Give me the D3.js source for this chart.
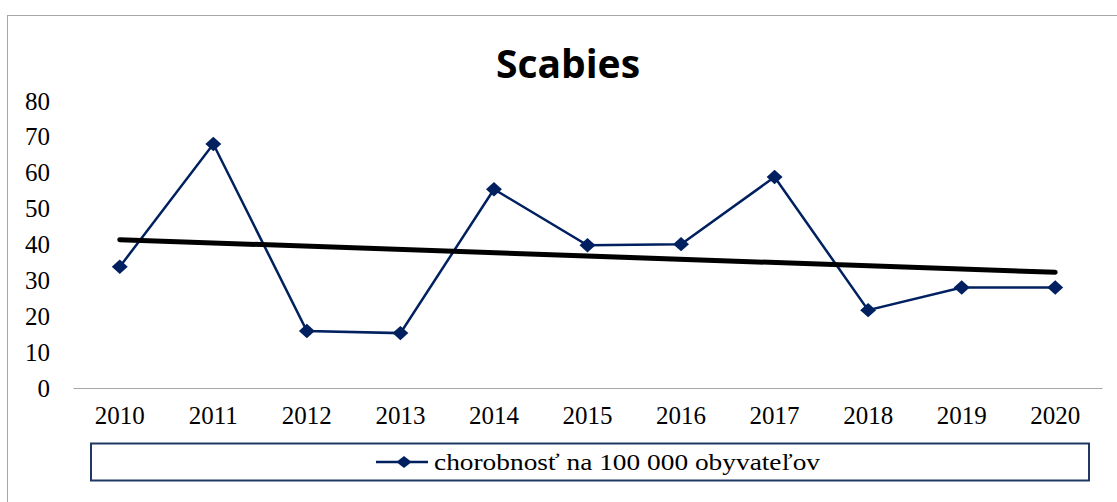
<!DOCTYPE html>
<html>
<head>
<meta charset="utf-8">
<script src="https://cdn.jsdelivr.net/npm/d3@7"></script>
<style>
  body { margin: 0; background: #fff; }
  svg { display: block; }
</style>
</head>
<body>
<div id="chart"></div>
<script>
var years = ['2010', '2011', '2012', '2013', '2014', '2015', '2016', '2017', '2018', '2019', '2020'];
var incidence = [33.8, 68.0, 15.9, 15.3, 55.4, 39.8, 40.1, 58.8, 21.7, 28.0, 28.0];
var yTicks = [0, 10, 20, 30, 40, 50, 60, 70, 80];
var seriesLabel = 'chorobnosť na 100 000 obyvateľov';
var chartTitle = 'Scabies';

var WIDTH = 1117, HEIGHT = 502;
var PLOT = { left: 73, right: 1102, top: 101, bottom: 388 };
var NAVY = '#002060';
var SERIF = 'Liberation Serif, Times New Roman, serif';

var svg = d3.select('#chart').append('svg')
    .attr('width', WIDTH)
    .attr('height', HEIGHT);

// outer chart frame
svg.append('rect')
    .attr('x', 7.5).attr('y', 15.5)
    .attr('width', WIDTH + 20).attr('height', HEIGHT + 20)
    .attr('fill', '#fff')
    .attr('stroke', '#a6a6a6');

var x = d3.scaleBand().domain(years).range([PLOT.left, PLOT.right]);
var y = d3.scaleLinear().domain([0, 80]).range([PLOT.bottom, PLOT.top]);
var cx = function (d) { return x(d) + x.bandwidth() / 2; };

svg.append('text')
    .attr('x', 568).attr('y', 78)
    .attr('text-anchor', 'middle')
    .attr('font-family', 'Open Sans, Liberation Sans, sans-serif')
    .attr('font-weight', 'bold')
    .attr('font-size', 39)
    .text(chartTitle);

// y axis labels
var yAxis = svg.append('g')
    .attr('transform', 'translate(' + PLOT.left + ',0)')
    .attr('font-family', SERIF)
    .attr('font-size', 25)
    .call(d3.axisLeft(y).tickValues(yTicks).tickSize(0).tickPadding(23));
yAxis.select('.domain').remove();
yAxis.selectAll('text')
    .style('font-family', SERIF)
    .style('font-size', '25px')
    .attr('fill', '#000');

// x axis
var xAxis = svg.append('g')
    .attr('transform', 'translate(0,' + PLOT.bottom + ')')
    .call(d3.axisBottom(x).tickSize(0).tickPadding(18));
xAxis.select('.domain').attr('stroke', '#a6a6a6');
xAxis.selectAll('text')
    .style('font-family', SERIF)
    .style('font-size', '25px')
    .attr('fill', '#000');

// series line
var line = d3.line()
    .x(function (d, i) { return cx(years[i]); })
    .y(function (d) { return y(d); });
svg.append('path')
    .datum(incidence)
    .attr('d', line)
    .attr('fill', 'none')
    .attr('stroke', NAVY)
    .attr('stroke-width', 2.5);

// linear trend line (least squares)
var n = incidence.length;
var mx = d3.mean(incidence, function (d, i) { return i; });
var my = d3.mean(incidence);
var sxy = d3.sum(incidence, function (d, i) { return (i - mx) * (d - my); });
var sxx = d3.sum(incidence, function (d, i) { return (i - mx) * (i - mx); });
var slope = sxy / sxx;
var trend = [0, n - 1].map(function (i) { return { i: i, v: my + slope * (i - mx) }; });
svg.append('path')
    .datum(trend)
    .attr('d', d3.line()
        .x(function (d) { return cx(years[d.i]); })
        .y(function (d) { return y(d.v); }))
    .attr('fill', 'none')
    .attr('stroke', '#000')
    .attr('stroke-width', 5)
    .attr('stroke-linecap', 'round');

// diamond markers
var diamond = d3.symbol().type(d3.symbolSquare).size(115);
svg.selectAll('.marker')
    .data(incidence)
    .enter().append('path')
    .attr('class', 'marker')
    .attr('d', diamond)
    .attr('transform', function (d, i) {
        return 'translate(' + cx(years[i]) + ',' + y(d) + ') scale(1.05,0.95) rotate(45)';
    })
    .attr('fill', NAVY);

// legend
var legend = svg.append('g');
legend.append('rect')
    .attr('x', 91).attr('y', 443.5)
    .attr('width', 998).attr('height', 37)
    .attr('fill', '#fff')
    .attr('stroke', '#1f3864')
    .attr('stroke-width', 2);
legend.append('line')
    .attr('x1', 376).attr('x2', 428)
    .attr('y1', 462).attr('y2', 462)
    .attr('stroke', NAVY)
    .attr('stroke-width', 2.5);
legend.append('path')
    .attr('d', d3.symbol().type(d3.symbolSquare).size(80))
    .attr('transform', 'translate(404,462) scale(1.2,0.95) rotate(45)')
    .attr('fill', NAVY);
legend.append('text')
    .attr('x', 434).attr('y', 462)
    .attr('dy', '0.35em')
    .attr('textLength', 386)
    .attr('lengthAdjust', 'spacingAndGlyphs')
    .style('font-family', SERIF)
    .style('font-size', '23px')
    .text(seriesLabel);
</script>
</body>
</html>
